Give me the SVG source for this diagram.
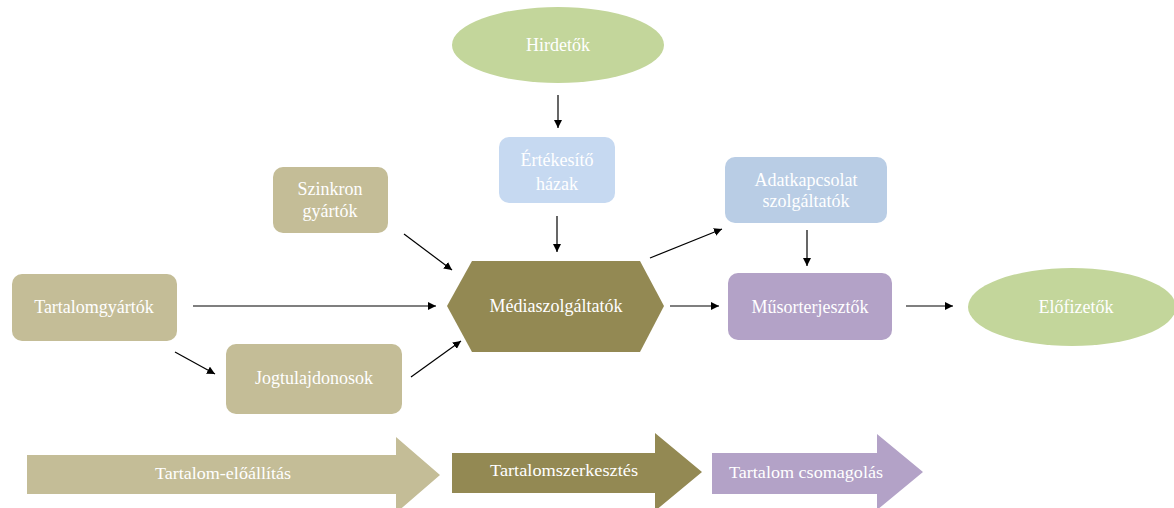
<svg xmlns="http://www.w3.org/2000/svg" width="1174" height="508" viewBox="0 0 1174 508">
<defs>
<style>
.t{font-family:"Liberation Serif","Times New Roman",serif;font-size:18px;fill:#ffffff;text-anchor:middle}
.b{font-family:"Liberation Serif","Times New Roman",serif;font-size:17px;fill:#ffffff;text-anchor:middle}
.c{stroke:#000;stroke-width:1.2;fill:none;marker-end:url(#ah)}
</style>
<marker id="ah" viewBox="0 0 10 10" refX="10" refY="5" markerWidth="8" markerHeight="8" markerUnits="userSpaceOnUse" orient="auto">
<path d="M0,0 L10,5 L0,10 z" fill="#000"/>
</marker>
</defs>
<rect width="1174" height="508" fill="#ffffff"/>
<g id="connectors">
<line class="c" x1="558" y1="95" x2="558" y2="128"/>
<line class="c" x1="557" y1="216" x2="557" y2="252"/>
<line class="c" x1="404" y1="234" x2="452" y2="270"/>
<line class="c" x1="193" y1="306" x2="436" y2="306"/>
<line class="c" x1="175" y1="352" x2="215" y2="374"/>
<line class="c" x1="411" y1="377" x2="461" y2="341"/>
<line class="c" x1="650" y1="258" x2="722" y2="229"/>
<line class="c" x1="807" y1="230" x2="807" y2="266"/>
<line class="c" x1="670" y1="306" x2="719" y2="306"/>
<line class="c" x1="906" y1="306" x2="953" y2="306"/>
</g>
<g id="hirdetok">
<ellipse cx="558" cy="45" rx="106" ry="38" fill="#c3d69b"/>
<text class="t" x="558" y="51">Hirdetők</text>
</g>
<g id="ertekesito">
<rect x="499" y="137" width="116" height="66" rx="10" fill="#c6d9f1"/>
<text class="t" x="557" y="166">Értékesítő</text>
<text class="t" x="557" y="190">házak</text>
</g>
<g id="szinkron">
<rect x="273" y="167" width="115" height="66" rx="10" fill="#c4bd97"/>
<text class="t" x="330" y="195">Szinkron</text>
<text class="t" x="330" y="217">gyártók</text>
</g>
<g id="media">
<polygon points="447,306 472,261 640,261 664,306 640,352 472,352" fill="#938953"/>
<text class="t" x="556" y="312">Médiaszolgáltatók</text>
</g>
<g id="tartalomgyartok">
<rect x="12" y="274" width="165" height="67" rx="10" fill="#c4bd97"/>
<text class="t" x="94" y="313">Tartalomgyártók</text>
</g>
<g id="jogtulajdonosok">
<rect x="226" y="344" width="176" height="70" rx="10" fill="#c4bd97"/>
<text class="t" x="314" y="384">Jogtulajdonosok</text>
</g>
<g id="adatkapcsolat">
<rect x="725" y="157" width="162" height="66" rx="10" fill="#b9cde5"/>
<text class="t" x="806" y="186">Adatkapcsolat</text>
<text class="t" x="806" y="207">szolgáltatók</text>
</g>
<g id="musorterjesztok">
<rect x="728" y="273" width="164" height="67" rx="10" fill="#b3a2c7"/>
<text class="t" x="810" y="313">Műsorterjesztők</text>
</g>
<g id="elofizetok">
<ellipse cx="1072" cy="307" rx="104" ry="39" fill="#c3d69b"/>
<text class="t" x="1076" y="313">Előfizetők</text>
</g>
<g id="phase1">
<polygon points="27,455 396,455 396,437 440,475 396,513 396,494 27,494" fill="#c4bd97"/>
<text class="b" x="223" y="479" textLength="136" lengthAdjust="spacingAndGlyphs">Tartalom-előállítás</text>
</g>
<g id="phase2">
<polygon points="452,453 655,453 655,433 702,472 655,511 655,493 452,493" fill="#938953"/>
<text class="b" x="564" y="476" textLength="148" lengthAdjust="spacingAndGlyphs">Tartalomszerkesztés</text>
</g>
<g id="phase3">
<polygon points="712,453 877,453 877,434 923,472 877,510 877,494 712,494" fill="#b3a2c7"/>
<text class="b" x="806" y="478" textLength="154" lengthAdjust="spacingAndGlyphs">Tartalom csomagolás</text>
</g>
</svg>
